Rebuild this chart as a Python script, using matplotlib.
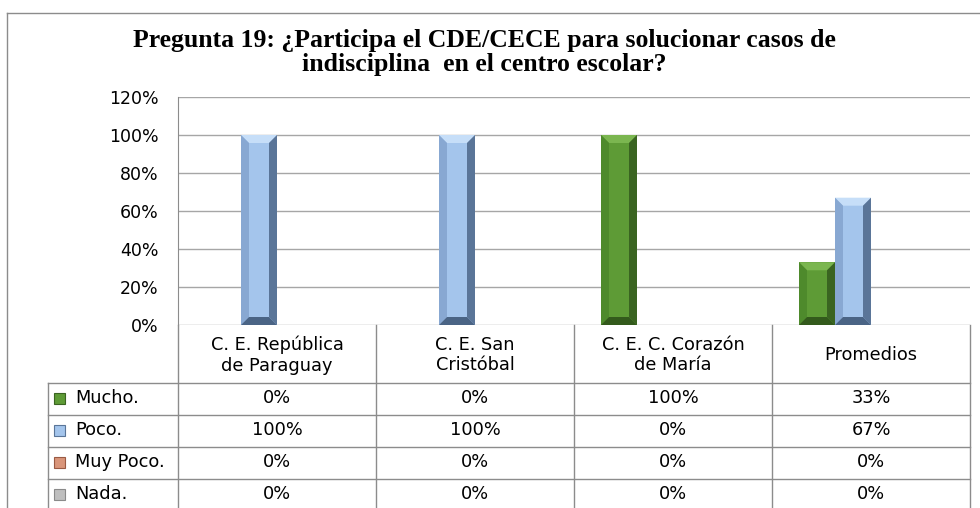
#!/usr/bin/env python3
"""Pregunta 19 — columnas con bisel + tabla de datos (estilo Excel)."""
import matplotlib
matplotlib.use("Agg")
import matplotlib.pyplot as plt
from matplotlib.patches import Polygon, Rectangle

categorias = ["C. E. República\nde Paraguay", "C. E. San\nCristóbal",
              "C. E. C. Corazón\nde María", "Promedios"]
series = ["Mucho.", "Poco.", "Muy Poco.", "Nada."]
mucho = [0.0, 0.0, 1.0, 0.33]
poco = [1.0, 1.0, 0.0, 0.67]
muy_poco = [0.0, 0.0, 0.0, 0.0]
nada = [0.0, 0.0, 0.0, 0.0]
etiquetas = [["0%", "0%", "100%", "33%"],
             ["100%", "100%", "0%", "67%"],
             ["0%", "0%", "0%", "0%"],
             ["0%", "0%", "0%", "0%"]]
yticks = [0, 0.2, 0.4, 0.6, 0.8, 1.0, 1.2]

# cara, izquierda, derecha, arriba, abajo
colores = [
    ("#5E9B36", "#4E8A2C", "#3A6421", "#7BB650", "#335A1C"),
    ("#A4C5EC", "#88A8D2", "#5A7598", "#C6DEF8", "#4A6485"),
    ("#D9957A", "#C47E63", "#9A5A43", "#EDB49C", "#8A4F3A"),
    ("#BFBFBF", "#ABABAB", "#8A8A8A", "#D5D5D5", "#7F7F7F"),
]

W, H = 980, 508
L, R, T, B = 178, 970, 97, 325
GRID = "#A6A6A6"
LINEA = "#8C8C8C"
FONT = "DejaVu Sans"
FS = 12.8

fig = plt.figure(figsize=(W / 100, H / 100), dpi=100)
ax = fig.add_axes([L / W, 1 - B / H, (R - L) / W, (B - T) / H])
ax.set_xlim(0, 4)
ax.set_ylim(0, 1.2)
for s in ax.spines.values():
    s.set_visible(False)
ax.spines["left"].set_visible(True)
ax.spines["left"].set_color(LINEA)
ax.set_xticks([])
ax.set_yticks(yticks)
ax.set_yticklabels([f"{int(round(t * 100))}%" for t in yticks],
                   fontsize=12.5, family=FONT)
ax.tick_params(axis="y", length=0, pad=14)
for t in yticks:
    ax.axhline(t, color=GRID, lw=1.0, zorder=0)

# conversión píxel -> datos para el bisel
px_x = 4 / (R - L)
px_y = 1.2 / (B - T)
bx, by = 8 * px_x, 8 * px_y

gap = 1.5
bw = 1 / (4 + gap)
valores = [mucho, poco, muy_poco, nada]
for si, vals in enumerate(valores):
    cara, izq, der, arr, aba = colores[si]
    xs = [i + bw * gap / 2 + si * bw + bw / 2 for i in range(4)]
    bars = ax.bar(xs, vals, width=bw, color=cara, linewidth=0, zorder=2)
    for b in bars:
        v = b.get_height()
        if v <= 0:
            continue
        x0, x1 = b.get_x(), b.get_x() + b.get_width()
        hb = min(by, v / 2)
        polys = [
            ([(x0, v), (x1, v), (x1 - bx, v - hb), (x0 + bx, v - hb)], arr),
            ([(x0, 0), (x0, v), (x0 + bx, v - hb), (x0 + bx, hb)], izq),
            ([(x1, 0), (x1, v), (x1 - bx, v - hb), (x1 - bx, hb)], der),
            ([(x0, 0), (x1, 0), (x1 - bx, hb), (x0 + bx, hb)], aba),
        ]
        for pts, c in polys:
            ax.add_patch(Polygon(pts, closed=True, facecolor=c,
                                 edgecolor="none", zorder=3))

# ---- tabla de datos (coordenadas en píxeles de la figura) ----
def fx(px):
    return px / W


def fy(py):
    return 1 - py / H


def hline(x0, x1, y):
    fig.add_artist(plt.Line2D([fx(x0), fx(x1)], [fy(y), fy(y)],
                              color=LINEA, lw=1.0))


def vline(x, y0, y1):
    fig.add_artist(plt.Line2D([fx(x), fx(x)], [fy(y0), fy(y1)],
                              color=LINEA, lw=1.0))


col_x = [L + i * (R - L) / 4 for i in range(5)]
filas = [383, 415, 447, 479, 511]
TL = 48

for x in col_x:
    vline(x, B, 508)
vline(TL, filas[0], 508)
for y in filas[:-1]:
    hline(TL, R, y)

for i, cat in enumerate(categorias):
    cx = (col_x[i] + col_x[i + 1]) / 2
    fig.text(fx(cx), fy((B + filas[0]) / 2 + 1), cat, ha="center", va="center",
             fontsize=FS, family=FONT, linespacing=1.2)

for r, nombre in enumerate(series):
    ymid = (filas[r] + filas[r + 1]) / 2 - 1
    cara, izq, der, arr, aba = colores[r]
    fig.add_artist(Rectangle((fx(54), fy(ymid + 5.5)), 11 / W, 11 / H,
                             facecolor=cara, edgecolor=der, lw=0.8))
    fig.text(fx(75), fy(ymid), nombre, ha="left", va="center",
             fontsize=FS, family=FONT)
    for i in range(4):
        cx = (col_x[i] + col_x[i + 1]) / 2
        fig.text(fx(cx), fy(ymid), etiquetas[r][i], ha="center", va="center",
                 fontsize=FS, family=FONT)

# marco del gráfico
hline(7, W, 13)
vline(7, 13, H)

fig.text(fx(484), fy(41), "Pregunta 19: ¿Participa el CDE/CECE para solucionar casos de",
         ha="center", va="center", fontsize=18.5, fontweight="bold",
         family="Liberation Serif")
fig.text(fx(484), fy(64), "indisciplina  en el centro escolar?",
         ha="center", va="center", fontsize=18.5, fontweight="bold",
         family="Liberation Serif")

fig.savefig("out.png", dpi=100)
